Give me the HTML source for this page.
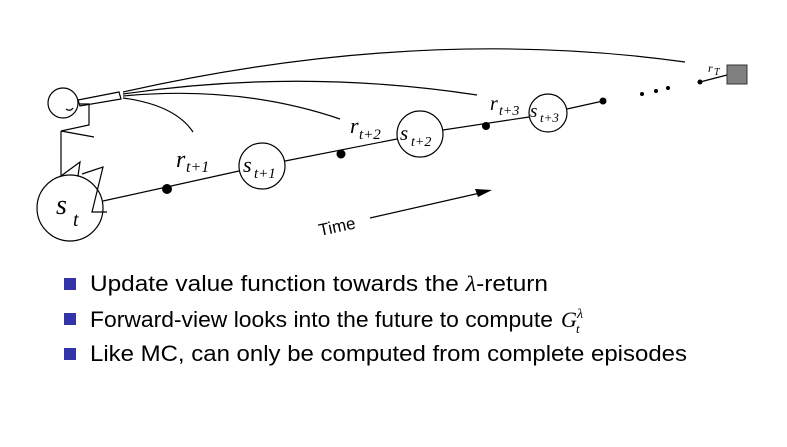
<!DOCTYPE html>
<html><head><meta charset="utf-8"><style>
html,body{margin:0;padding:0;background:#fff;width:787px;height:447px;overflow:hidden}
svg{display:block}
.it{font-family:"Liberation Serif",serif;font-style:italic}
.tx{font-family:"Liberation Sans",sans-serif;font-size:22px;fill:#000}
</style></head><body>
<svg width="787" height="447" viewBox="0 0 787 447" xmlns="http://www.w3.org/2000/svg">
<g fill="none" stroke="#000" stroke-width="1.2">
<circle cx="63" cy="103" r="15"/>
<path d="M66 109 q4 3 7 -1"/>
<polygon points="78,100 119,92 121,99 80,106"/>
<path d="M80 104 L89 104 L89 125 L61 131 L94 137"/>
<path d="M61 131 L61 176"/>
<path d="M61 176 L80 162 L78 176 M82 174 L103 167 L92 212 L107 212"/>
<path d="M123 98 Q175 105 193 132"/>
<path d="M123 96 Q240 85 340 119"/>
<path d="M123 94 Q300 68 477 95"/>
<path d="M123 92 Q420 25 685 62"/>
<circle cx="70" cy="208" r="33"/>
<circle cx="262" cy="166" r="23"/>
<circle cx="420" cy="134" r="23"/>
<circle cx="548" cy="113" r="19"/>
<line x1="103" y1="201" x2="239" y2="171"/>
<line x1="285" y1="161" x2="397" y2="139"/>
<line x1="443" y1="130" x2="529" y2="117"/>
<line x1="567" y1="109" x2="603" y2="101"/>
<line x1="700" y1="82" x2="727" y2="75"/>
<line x1="370" y1="218" x2="480" y2="193"/>
</g>
<polygon points="492,190 475,189 478,197" fill="#000"/>
<g fill="#000">
<circle cx="167" cy="189" r="5"/>
<circle cx="341" cy="154" r="4.5"/>
<circle cx="486" cy="126" r="4"/>
<circle cx="603" cy="101" r="3.5"/>
<circle cx="642" cy="94" r="2"/>
<circle cx="656" cy="91" r="2"/>
<circle cx="668" cy="88" r="2"/>
<circle cx="700" cy="82" r="2.5"/>
</g>
<rect x="727" y="65" width="20" height="19" fill="#808080" stroke="#333" stroke-width="1"/>
<g class="it" fill="#000">
<text x="56" y="214" font-size="28">s</text><text x="73" y="226" font-size="20">t</text>
<text x="176" y="167" font-size="24">r</text><text x="186" y="172" font-size="16">t+1</text>
<text x="243" y="172" font-size="22">s</text><text x="254" y="178" font-size="15">t+1</text>
<text x="350" y="133" font-size="22">r</text><text x="359" y="139" font-size="15">t+2</text>
<text x="400" y="140" font-size="21">s</text><text x="411" y="146" font-size="14">t+2</text>
<text x="490" y="110" font-size="20">r</text><text x="499" y="115" font-size="14">t+3</text>
<text x="530" y="117" font-size="19">s</text><text x="540" y="122" font-size="13">t+3</text>
<text x="708" y="72" font-size="12">r</text><text x="714" y="75" font-size="10">T</text>
</g>
<text x="320" y="236" transform="rotate(-12 320 236)" font-family="Liberation Sans,sans-serif" font-size="17">Time</text>
<g fill="#3333aa">
<rect x="64" y="278" width="12" height="12"/>
<rect x="64" y="313" width="12" height="12"/>
<rect x="64" y="348" width="12" height="12"/>
</g>
<text class="tx" x="90" y="291" textLength="458" lengthAdjust="spacingAndGlyphs">Update value function towards the <tspan class="it">λ</tspan>-return</text>
<text class="tx" x="90" y="327" textLength="463" lengthAdjust="spacingAndGlyphs">Forward-view looks into the future to compute</text>
<text class="it" x="561" y="327" font-size="22">G</text>
<text class="it" x="576" y="333" font-size="13">t</text><text class="it" x="577" y="318" font-size="14">λ</text>
<text class="tx" x="90" y="361" textLength="597" lengthAdjust="spacingAndGlyphs">Like MC, can only be computed from complete episodes</text>
</svg>
</body></html>
